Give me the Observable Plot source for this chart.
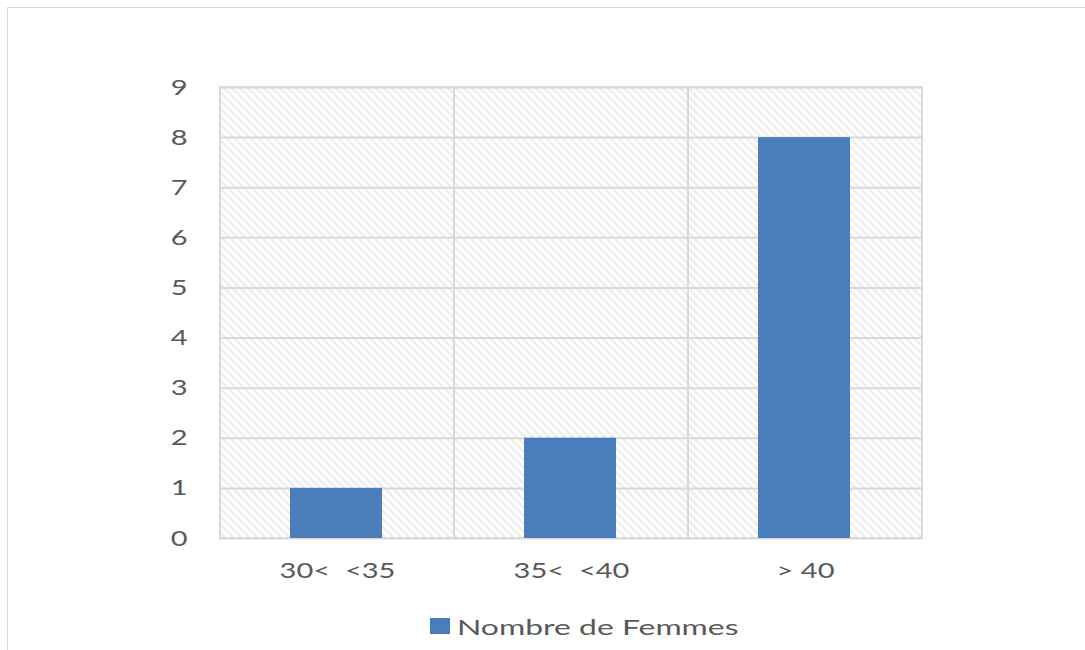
<!DOCTYPE html>
<html>
<head>
<meta charset="utf-8">
<script src="https://cdn.jsdelivr.net/npm/d3@7"></script>
<script src="https://cdn.jsdelivr.net/npm/@observablehq/plot@0.6"></script>
<style>
  html, body { margin: 0; padding: 0; background: #fff; }
  #wrap { position: relative; width: 1085px; height: 650px; overflow: hidden; font-family: Lato, "Open Sans", sans-serif; }
  #frame { position: absolute; left: 7px; top: 7px; width: 1100px; height: 700px; border-left: 1.5px solid #d9d9d9; border-top: 1.5px solid #d9d9d9; box-sizing: border-box; }
  #chart { position: absolute; left: 0; top: 0; }
  #chart svg text { white-space: pre; }
  #legend { position: absolute; left: 430px; top: 615px; height: 22px; display: flex; align-items: center; color: #595959; font-size: 22px; }
  #legend .sw { width: 20px; height: 16px; background: #4a7ebb; margin-right: 7px; }
  #legend .lab { display: inline-block; transform: scaleX(1.45); transform-origin: left center; white-space: pre; }
</style>
</head>
<body>
<div id="wrap">
  <div id="frame"></div>
  <div id="chart"></div>
  <div id="legend"><span class="sw"></span><span class="lab" id="legendLabel"></span></div>
</div>
<script>
const categories = ["30<  <35", "35<  <40", "> 40"];
const values = [1, 2, 8];
const seriesName = "Nombre de Femmes";
const yTicks = [0, 1, 2, 3, 4, 5, 6, 7, 8, 9];

const data = categories.map((c, i) => ({category: c, value: values[i]}));
const barColor = "#4a7ebb";
const gridColor = "#d9d9d9";
const textColor = "#595959";

const plot = Plot.plot({
  width: 1085,
  height: 600,
  marginLeft: 219,
  marginRight: 163,
  marginTop: 87,
  marginBottom: 62,
  style: {fontFamily: "Lato, 'Open Sans', sans-serif", fontSize: "22px", color: textColor, background: "transparent"},
  x: {domain: categories, padding: 0, label: null},
  y: {domain: [0, 9], label: null},
  marks: [
    Plot.frame({fill: "url(#hatch)", stroke: "none"}),
    Plot.ruleY(yTicks, {stroke: gridColor, strokeWidth: 2}),
    Plot.cell(categories, {x: d => d, fill: "none", stroke: gridColor, strokeWidth: 2}),
    Plot.barY(data, {x: "category", y: "value", fill: barColor, insetLeft: 70, insetRight: 72}),
    Plot.axisY({ticks: yTicks, tickSize: 0, tickPadding: 32, tickFormat: d => String(d)}),
    Plot.axisX({tickSize: 0, tickPadding: 24})
  ]
});

// hatch pattern definition
const ns = "http://www.w3.org/2000/svg";
const defs = document.createElementNS(ns, "defs");
defs.innerHTML = `<pattern id="hatch" patternUnits="userSpaceOnUse" width="8" height="8">
  <rect width="8" height="8" fill="#ffffff"/>
  <path d="M-2,-2 L10,10 M-2,6 L2,10 M6,-2 L10,2" stroke="#e2e2e2" stroke-width="1.5"/>
  <rect x="5" y="1" width="1" height="1" fill="#e6e6e6"/>
</pattern>`;
plot.insertBefore(defs, plot.firstChild);

// widen axis text to mimic the stretched reference
plot.querySelectorAll("g[aria-label$='tick label'] text").forEach(t => {
  const tr = t.getAttribute("transform") || "";
  t.setAttribute("transform", tr + " scale(1.32,1)");
});

document.getElementById("chart").appendChild(plot);
document.getElementById("legendLabel").textContent = seriesName;
</script>
</body>
</html>
